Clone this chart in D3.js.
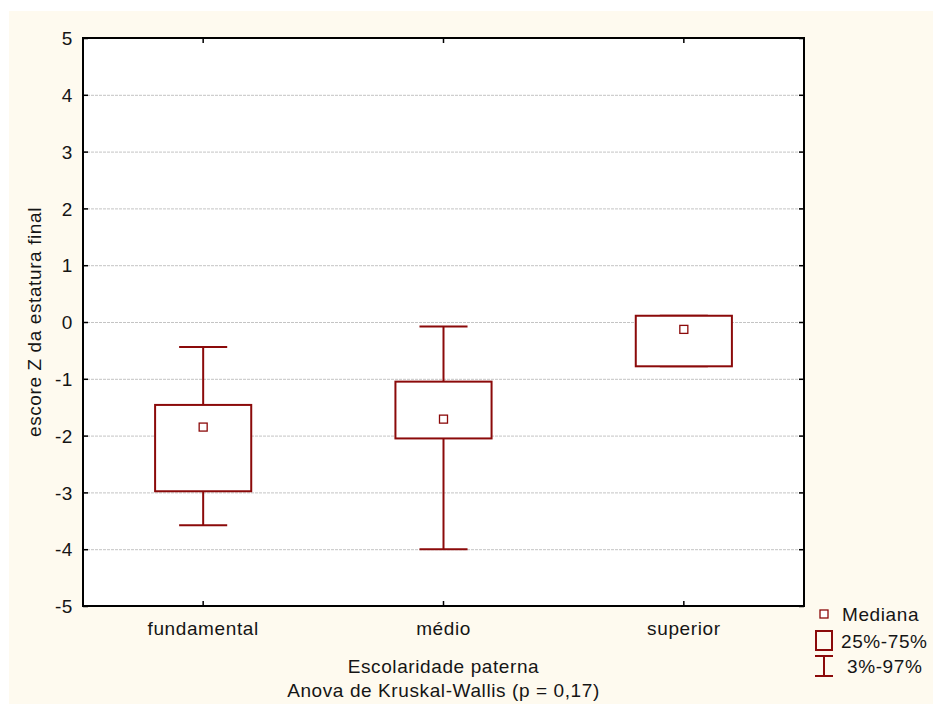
<!DOCTYPE html>
<html>
<head>
<meta charset="utf-8">
<script src="https://cdn.jsdelivr.net/npm/d3@7"></script>
<style>
  body { margin: 0; background: #ffffff; }
  text { font-family: "Liberation Sans", Arial, sans-serif; fill: #151515; letter-spacing: 0.6px; }
</style>
</head>
<body>
<div id="chart"></div>
<script>
// Data
const categories = ["fundamental", "médio", "superior"];
const medians = [-1.85, -1.71, -0.13];
const q25 = [-2.98, -2.05, -0.78];
const q75 = [-1.46, -1.05, 0.11];
const p3 = [-3.58, -4.0, -0.78];
const p97 = [-0.44, -0.08, 0.11];
const yTicks = [-5, -4, -3, -2, -1, 0, 1, 2, 3, 4, 5];

const dataset = categories.map((c, i) => ({
  cat: c,
  median: medians[i],
  q25: q25[i],
  q75: q75[i],
  lo: p3[i],
  hi: p97[i]
}));

const boxColor = "#8b0a0a";
const fontSize = "19px";

// Dimensions
const dimensions = {
  width: 933,
  height: 704,
  margin: { top: 38, right: 129, bottom: 98, left: 83 }
};

const svg = d3
  .select("#chart")
  .append("svg")
  .attr("width", dimensions.width)
  .attr("height", dimensions.height);

// Cream background panel
svg
  .append("rect")
  .attr("x", 9)
  .attr("y", 11)
  .attr("width", dimensions.width - 9)
  .attr("height", dimensions.height - 11)
  .attr("fill", "#fefaef");

const plotLeft = dimensions.margin.left;
const plotRight = dimensions.width - dimensions.margin.right;
const plotTop = dimensions.margin.top;
const plotBottom = dimensions.height - dimensions.margin.bottom;

// Scales
const xScale = d3
  .scaleBand()
  .domain(categories)
  .range([plotLeft, plotRight])
  .padding(0);

const yScale = d3
  .scaleLinear()
  .domain([-5, 5])
  .range([plotBottom, plotTop]);

// Plot area
svg
  .append("rect")
  .attr("x", plotLeft)
  .attr("y", plotTop)
  .attr("width", plotRight - plotLeft)
  .attr("height", plotBottom - plotTop)
  .attr("fill", "#ffffff");

// Gridlines
svg
  .append("g")
  .selectAll("line")
  .data(yTicks.filter((d) => d > -5 && d < 5))
  .join("line")
  .attr("x1", plotLeft)
  .attr("x2", plotRight)
  .attr("y1", (d) => yScale(d) + 0.5)
  .attr("y2", (d) => yScale(d) + 0.5)
  .attr("stroke", "#c4c4c4")
  .attr("stroke-width", 1)
  .attr("stroke-dasharray", "3,1");

// Axes (ticks pointing inward)
const yAxisLeft = d3
  .axisLeft(yScale)
  .tickValues(yTicks)
  .tickFormat((d) => String(d))
  .tickSize(-5)
  .tickPadding(10)
  .tickSizeOuter(0);
const gy = svg.append("g").attr("transform", `translate(${plotLeft},0)`).call(yAxisLeft);
gy.selectAll("text")
  .style("font-size", fontSize)
  .style("font-family", "Liberation Sans, Arial, sans-serif")
  .attr("fill", "#151515")
  .attr("dy", "0.35em");

const yAxisRight = d3.axisRight(yScale).tickValues(yTicks).tickSize(-5).tickFormat("").tickSizeOuter(0);
svg.append("g").attr("transform", `translate(${plotRight},0)`).call(yAxisRight);

const xAxisBottom = d3.axisBottom(xScale).tickSize(-5).tickPadding(16).tickSizeOuter(0);
const gx = svg.append("g").attr("transform", `translate(0,${plotBottom})`).call(xAxisBottom);
gx.selectAll("text")
  .style("font-size", fontSize)
  .style("font-family", "Liberation Sans, Arial, sans-serif")
  .attr("fill", "#151515");

const xAxisTop = d3.axisTop(xScale).tickSize(-5).tickFormat("").tickSizeOuter(0);
svg.append("g").attr("transform", `translate(0,${plotTop})`).call(xAxisTop);

svg.selectAll(".domain").remove();
svg.selectAll(".tick line").attr("stroke", "#000").attr("stroke-width", 1.5);

// Frame
svg
  .append("rect")
  .attr("x", plotLeft)
  .attr("y", plotTop)
  .attr("width", plotRight - plotLeft)
  .attr("height", plotBottom - plotTop)
  .attr("fill", "none")
  .attr("stroke", "#000")
  .attr("stroke-width", 2);

// Boxes
const boxW = xScale.bandwidth() * 0.4;
const capW = xScale.bandwidth() * 0.2;
const boxes = svg
  .append("g")
  .selectAll("g")
  .data(dataset)
  .join("g")
  .attr("transform", (d) => `translate(${xScale(d.cat) + xScale.bandwidth() / 2},0)`);

boxes
  .append("line")
  .attr("x1", 0)
  .attr("x2", 0)
  .attr("y1", (d) => yScale(d.hi))
  .attr("y2", (d) => yScale(d.lo))
  .attr("stroke", boxColor)
  .attr("stroke-width", 2);

boxes
  .append("line")
  .attr("x1", -capW / 2)
  .attr("x2", capW / 2)
  .attr("y1", (d) => yScale(d.hi))
  .attr("y2", (d) => yScale(d.hi))
  .attr("stroke", boxColor)
  .attr("stroke-width", 2);

boxes
  .append("line")
  .attr("x1", -capW / 2)
  .attr("x2", capW / 2)
  .attr("y1", (d) => yScale(d.lo))
  .attr("y2", (d) => yScale(d.lo))
  .attr("stroke", boxColor)
  .attr("stroke-width", 2);

boxes
  .append("rect")
  .attr("x", -boxW / 2)
  .attr("width", boxW)
  .attr("y", (d) => yScale(d.q75))
  .attr("height", (d) => yScale(d.q25) - yScale(d.q75))
  .attr("fill", "#ffffff")
  .attr("stroke", boxColor)
  .attr("stroke-width", 2);

boxes
  .append("rect")
  .attr("x", -4)
  .attr("width", 8)
  .attr("y", (d) => yScale(d.median) - 4)
  .attr("height", 8)
  .attr("fill", "#ffffff")
  .attr("stroke", boxColor)
  .attr("stroke-width", 1.3);

// Axis titles
svg
  .append("text")
  .attr("transform", `translate(41,${(plotTop + plotBottom) / 2}) rotate(-90)`)
  .attr("text-anchor", "middle")
  .style("font-size", fontSize)
  .text("escore Z da estatura final");

svg
  .append("text")
  .attr("x", (plotLeft + plotRight) / 2)
  .attr("y", 673)
  .attr("text-anchor", "middle")
  .style("font-size", fontSize)
  .text("Escolaridade paterna");

svg
  .append("text")
  .attr("x", (plotLeft + plotRight) / 2)
  .attr("y", 697)
  .attr("text-anchor", "middle")
  .style("font-size", fontSize)
  .text("Anova de Kruskal-Wallis (p = 0,17)");

// Legend
const legend = svg.append("g").attr("transform", "translate(824,0)");

legend
  .append("rect")
  .attr("x", -4)
  .attr("y", 610)
  .attr("width", 8)
  .attr("height", 8)
  .attr("fill", "#fff")
  .attr("stroke", boxColor)
  .attr("stroke-width", 1.3);
legend.append("text").attr("x", 18).attr("y", 621).style("font-size", fontSize).text("Mediana");

legend
  .append("rect")
  .attr("x", -8)
  .attr("y", 631)
  .attr("width", 16)
  .attr("height", 19)
  .attr("fill", "none")
  .attr("stroke", boxColor)
  .attr("stroke-width", 2);
legend.append("text").attr("x", 17).attr("y", 648).style("font-size", fontSize).text("25%-75%");

legend
  .append("path")
  .attr("d", "M-9,656H9M0,656V676M-9,676H9")
  .attr("fill", "none")
  .attr("stroke", boxColor)
  .attr("stroke-width", 2);
legend.append("text").attr("x", 23).attr("y", 673).style("font-size", fontSize).text("3%-97%");
</script>
</body>
</html>
